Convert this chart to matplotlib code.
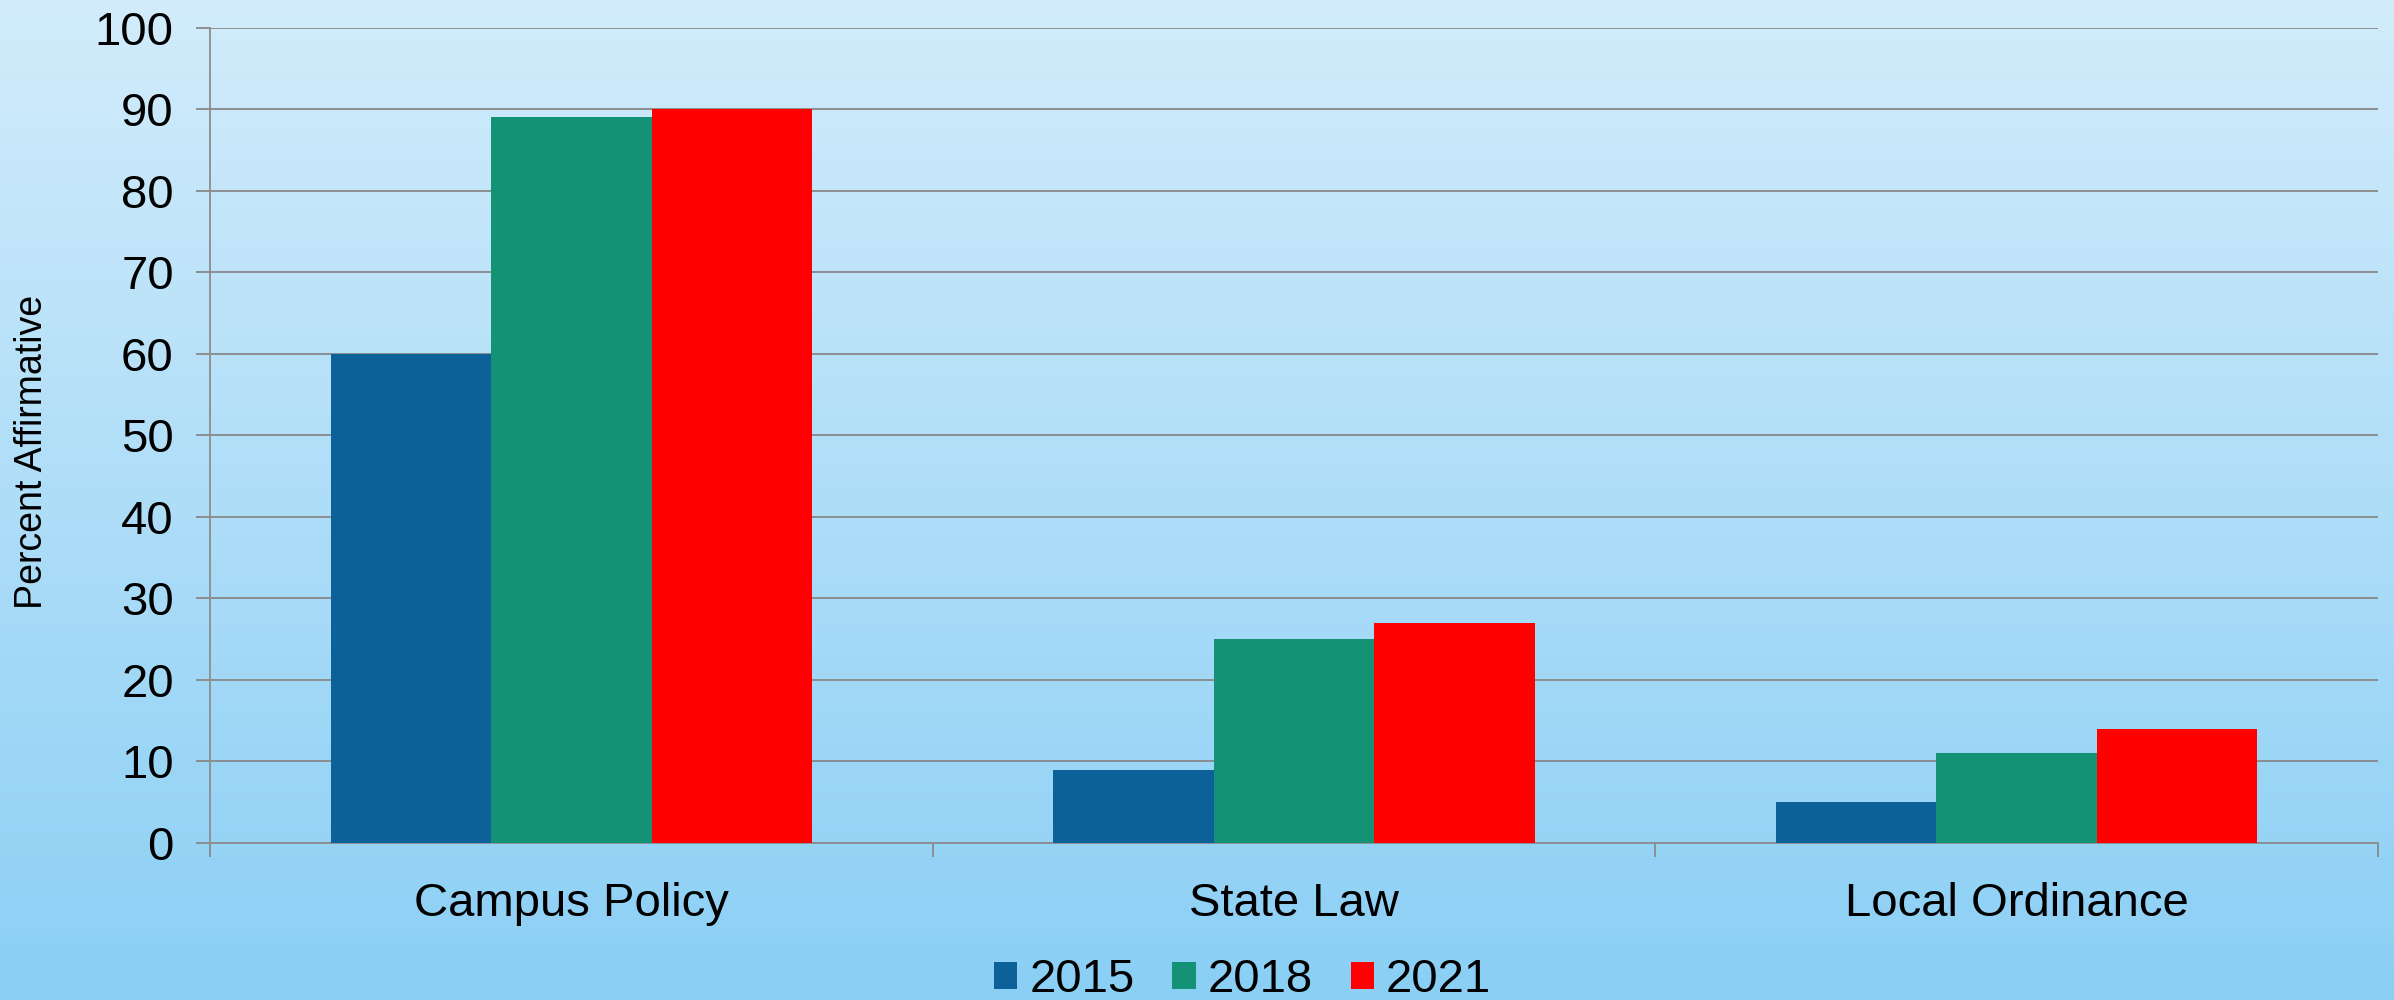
import numpy as np
import matplotlib
matplotlib.use("Agg")
import matplotlib.pyplot as plt
from matplotlib.colors import LinearSegmentedColormap

categories = ["Campus Policy", "State Law", "Local Ordinance"]
years = ["2015", "2018", "2021"]
v2015 = [60, 9, 5]
v2018 = [89, 25, 11]
v2021 = [90, 27, 14]
colors = ["#0c6298", "#139275", "#ff0000"]

plt.rcParams['font.family'] = ['Liberation Sans', 'DejaVu Sans']

fig = plt.figure(figsize=(23.94, 10), dpi=100)

# background gradient (light blue at top to deeper sky blue at bottom)
bg = fig.add_axes([0, 0, 1, 1], zorder=-10)
grad = np.linspace(0, 1, 256).reshape(-1, 1)
cmap = LinearSegmentedColormap.from_list("bg", ["#d2ecfb", "#8bcff5"])
bg.imshow(grad, aspect="auto", cmap=cmap, extent=[0, 1, 0, 1], origin="upper")
bg.axis("off")

ax = fig.add_axes([0.0877, 0.157, 0.9056, 0.8155])
ax.patch.set_alpha(0)

x = np.arange(len(categories))
w = 0.222
series = [v2015, v2018, v2021]
for i, (vals, yr) in enumerate(zip(series, years)):
    ax.bar(x + (i - 1) * w, vals, width=w, color=colors[i], label=yr, zorder=3)

ax.set_xlim(-0.5, len(categories) - 0.5)
ax.set_ylim(0, 100)
ax.set_yticks(range(0, 101, 10))
ax.yaxis.grid(True, color="#888888", linewidth=1.3, zorder=0)
ax.set_axisbelow(True)

for s in ["top", "right"]:
    ax.spines[s].set_visible(False)
ax.spines["left"].set_color("#8c8c8c")
ax.spines["bottom"].set_color("#8c8c8c")
ax.spines["left"].set_linewidth(1.3)
ax.spines["bottom"].set_linewidth(1.3)

ax.tick_params(axis="y", length=10, width=1.3, color="#888888", labelsize=34, pad=16)
ax.set_xticks(x)
ax.set_xticklabels(categories)
ax.set_xticks(np.arange(-0.5, len(categories), 1.0), minor=True)
ax.tick_params(axis="x", which="major", length=0, labelsize=34, pad=28)
ax.tick_params(axis="x", which="minor", length=10, width=1.3, color="#888888")

ax.set_ylabel("Percent Affirmative", fontsize=27)
ax.yaxis.set_label_coords(-0.074, 0.48)

fig.legend(loc="center", bbox_to_anchor=(0.519, 0.02), ncol=3, frameon=False,
           fontsize=34, handlelength=0.5, handleheight=0.5, handletextpad=0.25,
           columnspacing=0.8)

fig.savefig("out.png", dpi=100)
